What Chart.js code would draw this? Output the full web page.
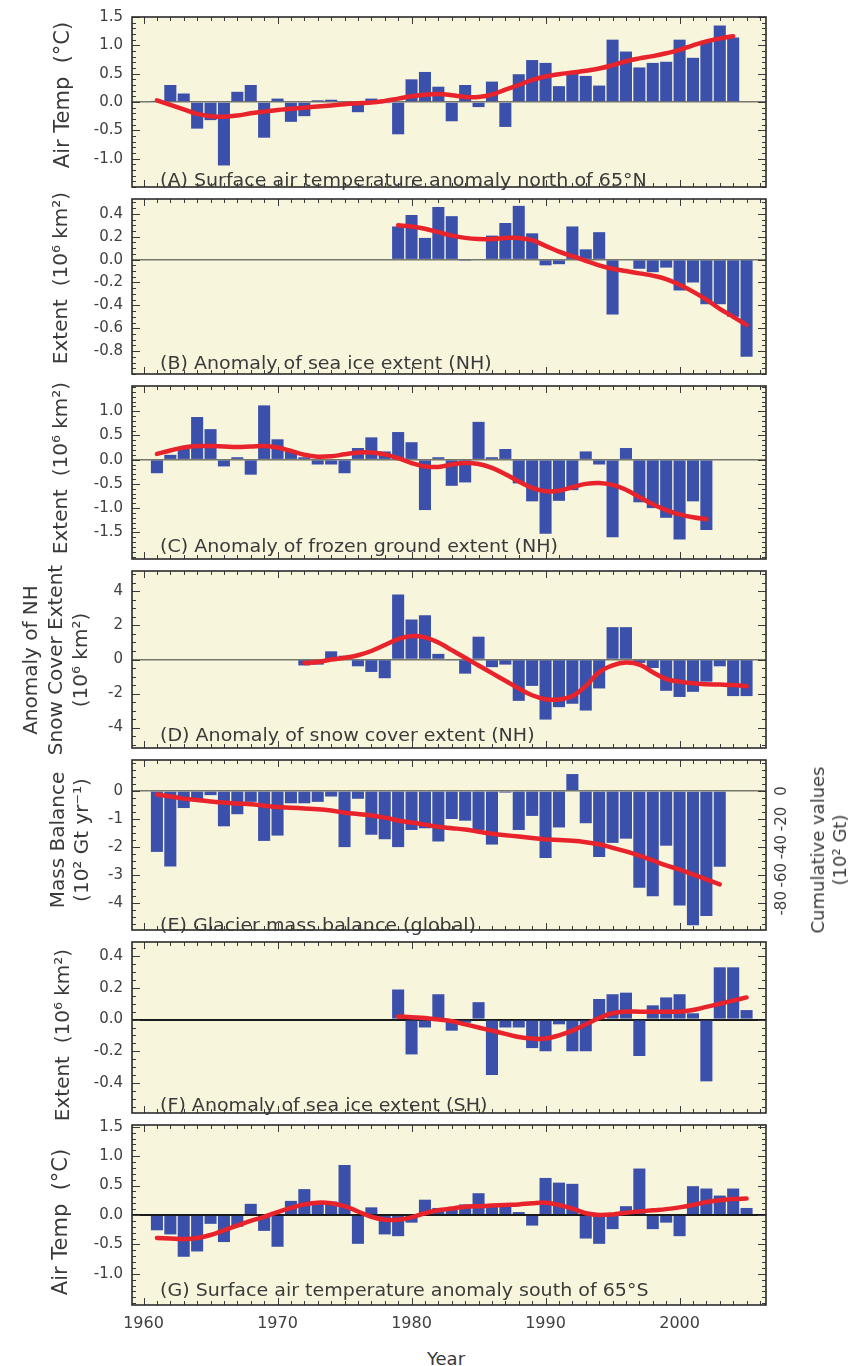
<!DOCTYPE html>
<html>
<head>
<meta charset="utf-8">
<title>Observed changes in the cryosphere and polar temperatures</title>
<script src="https://cdn.jsdelivr.net/npm/chart.js@4.4.1/dist/chart.umd.min.js"></script>
<style>
  body { margin: 0; background: #fff; }
  #wrap { position: relative; width: 853px; height: 1366px; overflow: hidden; font-family: "DejaVu Sans", sans-serif; color: #3a3a3a; }
  #wrap canvas { position: absolute; left: 0; }
  .lbl { position: absolute; left: 160px; font-size: 17px; white-space: nowrap; transform-origin: 0 50%; transform: translateY(-50%) scaleX(1.12); }
  .ttl { position: absolute; white-space: nowrap; text-align: center; font-size: 20px; line-height: 25px; transform: translate(-50%, -50%) rotate(-90deg); }
  .year { position: absolute; left: 446px; top: 1358px; font-size: 18px; transform: translate(-50%, -50%); }
</style>
</head>
<body>
<div id="wrap"></div>
<script>
// ---- Data ----

// x axis
const yearTicks = [1960, 1970, 1980, 1990, 2000];

// (A) Surface air temperature anomaly north of 65N, degC
const startA = 1961;
const barsA = [0.02, 0.30, 0.15, -0.47, -0.32, -1.12, 0.18, 0.30, -0.63, 0.06,
               -0.35, -0.25, 0.03, 0.04, -0.02, -0.18, 0.06, -0.02, -0.57, 0.40,
               0.53, 0.27, -0.34, 0.30, -0.09, 0.36, -0.44, 0.49, 0.74, 0.69,
               0.28, 0.50, 0.46, 0.29, 1.10, 0.89, 0.61, 0.69, 0.71, 1.10,
               0.78, 1.08, 1.35, 1.14];
const lineA = [0.03, -0.05, -0.13, -0.21, -0.25, -0.26, -0.24, -0.20, -0.17, -0.14,
               -0.12, -0.10, -0.08, -0.06, -0.04, -0.02, -0.01, 0.02, 0.06, 0.10,
               0.13, 0.14, 0.12, 0.09, 0.09, 0.13, 0.22, 0.30, 0.39, 0.45,
               0.49, 0.52, 0.55, 0.59, 0.65, 0.72, 0.77, 0.81, 0.86, 0.92,
               1.00, 1.07, 1.12, 1.16];
const ticksA = [1.5, 1.0, 0.5, 0, -0.5, -1.0];

// (B) Anomaly of sea ice extent (NH), 10^6 km2
const startB = 1979;
const barsB = [0.29, 0.39, 0.19, 0.46, 0.38, -0.01, 0.00, 0.21, 0.32, 0.47,
               0.23, -0.05, -0.04, 0.29, 0.09, 0.24, -0.48, 0.00, -0.08, -0.11,
               -0.07, -0.27, -0.20, -0.39, -0.39, -0.50, -0.85];
const lineB = [0.30, 0.29, 0.27, 0.24, 0.21, 0.19, 0.18, 0.18, 0.19, 0.19,
               0.17, 0.12, 0.07, 0.03, -0.01, -0.05, -0.08, -0.10, -0.12, -0.14,
               -0.17, -0.22, -0.28, -0.35, -0.43, -0.50, -0.57];
const ticksB = [0.4, 0.2, 0, -0.2, -0.4, -0.6, -0.8];

// (C) Anomaly of frozen ground extent (NH), 10^6 km2
const startC = 1961;
const barsC = [-0.28, 0.10, 0.22, 0.88, 0.63, -0.14, 0.05, -0.31, 1.12, 0.42,
               0.17, 0.05, -0.10, -0.10, -0.28, 0.24, 0.46, 0.17, 0.57, 0.36,
               -1.04, 0.05, -0.54, -0.47, 0.78, 0.05, 0.22, -0.49, -0.86, -1.53,
               -0.85, -0.63, 0.17, -0.10, -1.60, 0.24, -0.88, -1.00, -1.20, -1.65,
               -0.86, -1.45];
const lineC = [0.12, 0.19, 0.25, 0.28, 0.28, 0.27, 0.26, 0.27, 0.28, 0.25,
               0.18, 0.10, 0.06, 0.07, 0.11, 0.15, 0.15, 0.11, 0.03, -0.07,
               -0.14, -0.15, -0.10, -0.07, -0.09, -0.17, -0.30, -0.45, -0.58, -0.65,
               -0.64, -0.57, -0.50, -0.48, -0.52, -0.62, -0.77, -0.92, -1.04, -1.13,
               -1.19, -1.23];
const ticksC = [1.0, 0.5, 0, -0.5, -1.0, -1.5];

// (D) Anomaly of snow cover extent (NH), 10^6 km2
const startD = 1972;
const barsD = [-0.35, -0.30, 0.48, 0.22, -0.40, -0.73, -1.10, 3.82, 2.35, 2.60,
               0.33, -0.05, -0.83, 1.34, -0.45, -0.30, -2.43, -1.55, -3.53, -2.80,
               -2.60, -3.00, -1.70, 1.90, 1.90, -0.20, -0.50, -1.84, -2.20, -1.90,
               -1.30, -0.40, -2.15, -2.15];
const lineD = [-0.20, -0.15, 0.00, 0.10, 0.25, 0.50, 0.85, 1.20, 1.38, 1.30,
               1.00, 0.55, 0.10, -0.35, -0.80, -1.25, -1.70, -2.10, -2.33, -2.35,
               -2.15, -1.55, -0.75, -0.35, -0.18, -0.30, -0.75, -1.15, -1.30, -1.40,
               -1.45, -1.47, -1.50, -1.57];
const ticksD = [4, 2, 0, -2, -4];

// (E) Glacier mass balance (global), 10^2 Gt/yr; cumulative on right axis, 10^2 Gt
const startE = 1961;
const barsE = [-2.17, -2.69, -0.61, -0.33, -0.15, -1.26, -0.83, -0.39, -1.78, -1.59,
               -0.44, -0.44, -0.39, -0.20, -2.00, -0.28, -1.56, -1.72, -2.00, -1.39,
               -1.33, -1.80, -1.00, -1.06, -1.39, -1.91, -0.06, -1.39, -0.89, -2.39,
               -1.30, 0.60, -1.15, -2.35, -1.85, -1.70, -3.45, -3.75, -1.95, -4.08,
               -4.78, -4.45, -2.70];
const cumulE = [-2.5, -4, -5.5, -6.5, -7.5, -8.3, -9, -9.5, -10.5, -11.5,
                -12, -12.5, -13, -14, -15.5, -16.5, -17.5, -19, -21, -22.5,
                -24, -25.5, -26.5, -27.5, -29, -30.5, -31.5, -32.5, -33.5, -34.5,
                -35, -35.5, -36.5, -38, -40.5, -43, -46, -49.5, -53, -56,
                -59.5, -63, -66.5];
const ticksE = [0, -1, -2, -3, -4];
const ticksERight = [0, -20, -40, -60, -80];

// (F) Anomaly of sea ice extent (SH), 10^6 km2
const startF = 1979;
const barsF = [0.19, -0.22, -0.05, 0.16, -0.07, -0.02, 0.11, -0.35, -0.05, -0.05,
               -0.18, -0.20, -0.03, -0.20, -0.20, 0.13, 0.16, 0.17, -0.23, 0.09,
               0.14, 0.16, 0.04, -0.39, 0.33, 0.33, 0.06];
const lineF = [0.02, 0.015, 0.01, 0.00, -0.01, -0.03, -0.05, -0.07, -0.09, -0.11,
               -0.12, -0.12, -0.10, -0.07, -0.03, 0.01, 0.04, 0.05, 0.05, 0.05,
               0.05, 0.05, 0.06, 0.08, 0.10, 0.12, 0.14];
const ticksF = [0.4, 0.2, 0, -0.2, -0.4];

// (G) Surface air temperature anomaly south of 65S, degC
const startG = 1961;
const barsG = [-0.26, -0.33, -0.71, -0.62, -0.15, -0.46, -0.20, 0.19, -0.27, -0.54,
               0.24, 0.44, 0.22, 0.23, 0.85, -0.49, 0.13, -0.33, -0.36, -0.13,
               0.26, 0.12, 0.09, 0.18, 0.37, 0.18, 0.15, 0.05, -0.18, 0.63,
               0.55, 0.53, -0.40, -0.49, -0.24, 0.15, 0.79, -0.24, -0.13, -0.36,
               0.49, 0.45, 0.33, 0.45, 0.12];
const lineG = [-0.39, -0.40, -0.41, -0.39, -0.34, -0.26, -0.18, -0.10, -0.03, 0.05,
               0.12, 0.18, 0.21, 0.20, 0.15, 0.06, -0.03, -0.08, -0.08, -0.04,
               0.03, 0.08, 0.11, 0.14, 0.15, 0.16, 0.17, 0.18, 0.20, 0.21,
               0.17, 0.11, 0.03, 0.00, 0.01, 0.04, 0.06, 0.08, 0.10, 0.13,
               0.17, 0.22, 0.25, 0.27, 0.28];
const ticksG = [1.5, 1.0, 0.5, 0, -0.5, -1.0];

// ---- Styling ----
const BLUE = '#3b50aa';
const RED = '#e8232b';
const PAPER = '#f7f5dc';
const FRAME = '#2b2b2b';
const TEXT = '#404040';
const FONT = '"DejaVu Sans", sans-serif';

const toPoints = (start, vals) => vals.map((v, i) => ({ x: start + i, y: v }));

// background, frame and inward tick marks on all four sides
const framePlugin = {
    id: 'frame',
    beforeDraw(chart) {
        const a = chart.chartArea, ctx = chart.ctx;
        ctx.save();
        ctx.fillStyle = PAPER;
        ctx.fillRect(a.left, a.top, a.right - a.left, a.bottom - a.top);
        ctx.restore();
    },
    afterDatasetsDraw(chart, args, opts) {
        if (!opts || !opts.minor) return;
        const a = chart.chartArea, ctx = chart.ctx;
        const ys = chart.scales.y, xs = chart.scales.x;
        ctx.save();
        ctx.strokeStyle = '#3a3a3a';
        ctx.lineWidth = 1;
        ctx.beginPath();
        const step = opts.minor;
        for (let k = Math.ceil(ys.min / step - 1e-9); k * step <= ys.max + 1e-9; k++) {
            const v = k * step;
            const py = Math.round(ys.getPixelForValue(v)) + 0.5;
            const major = opts.major.some(m => Math.abs(m - v) < 1e-6);
            const len = major ? 8 : 4;
            ctx.moveTo(a.left, py); ctx.lineTo(a.left + len, py);
            ctx.moveTo(a.right, py); ctx.lineTo(a.right - len, py);
        }
        for (let yr = Math.ceil(xs.min); yr <= xs.max; yr++) {
            const px = Math.round(xs.getPixelForValue(yr)) + 0.5;
            const len = yr % 10 === 0 ? 7 : 4;
            ctx.moveTo(px, a.top); ctx.lineTo(px, a.top + len);
            ctx.moveTo(px, a.bottom); ctx.lineTo(px, a.bottom - len);
        }
        ctx.stroke();
        ctx.lineWidth = 1.6;
        ctx.strokeStyle = FRAME;
        ctx.strokeRect(a.left, a.top, a.right - a.left, a.bottom - a.top);

        // rotated labels for the right-hand (cumulative) axis
        if (opts.rightTicks) {
            const r = chart.scales.y2;
            ctx.fillStyle = TEXT;
            ctx.font = '15px ' + FONT;
            ctx.textAlign = 'center';
            ctx.textBaseline = 'middle';
            opts.rightTicks.forEach(v => {
                ctx.save();
                ctx.translate(a.right + 16, r.getPixelForValue(v));
                ctx.rotate(-Math.PI / 2);
                ctx.fillText(String(v), 0, 0);
                ctx.restore();
            });
        }
        ctx.restore();
    }
};
Chart.register(framePlugin);

const wrap = document.getElementById('wrap');
const X_MIN = 1959.14, X_MAX = 2006.45;

function addPanel(p) {
    const padTop = 12;
    const axisH = p.xLabels ? 30 : 0;
    const padBot = p.xLabels ? 6 : 12;
    const h = (p.bottom - p.top) + padTop + padBot + axisH;
    const c = document.createElement('canvas');
    c.width = 853; c.height = h;
    c.style.top = (p.top - padTop) + 'px';
    c.style.width = '853px'; c.style.height = h + 'px';
    wrap.appendChild(c);

    const datasets = [
        { type: 'bar', data: toPoints(p.start, p.bars), backgroundColor: BLUE, borderWidth: 0,
          barPercentage: 1, categoryPercentage: 0.9, order: 2, yAxisID: 'y' },
        { type: 'line', data: toPoints(p.lineStart || p.start, p.line), borderColor: RED, borderWidth: 4.5,
          tension: 0.4, pointRadius: 0, borderCapStyle: 'round', order: 1, yAxisID: p.lineAxis || 'y' }
    ];

    const scales = {
        x: {
            type: 'linear', min: X_MIN, max: X_MAX, offset: false,
            display: !!p.xLabels,
            grid: { display: false, drawTicks: false },
            border: { display: false },
            afterBuildTicks: s => { s.ticks = yearTicks.map(v => ({ value: v })); },
            afterFit: s => { if (p.xLabels) s.height = axisH; },
            ticks: { color: TEXT, font: { family: FONT, size: 16 }, padding: 9, maxRotation: 0, autoSkip: false,
                     callback: v => String(v) }
        },
        y: {
            type: 'linear', min: p.min, max: p.max, position: 'left',
            afterFit: s => { s.width = 132; },
            afterBuildTicks: s => { s.ticks = p.ticks.map(v => ({ value: v })); },
            grid: {
                drawTicks: false,
                color: ctx => (ctx.tick && ctx.tick.value === 0) ? p.zeroColor : 'rgba(0,0,0,0)',
                lineWidth: ctx => (ctx.tick && ctx.tick.value === 0) ? p.zeroWidth : 1
            },
            border: { display: false },
            ticks: { color: TEXT, font: { family: FONT, size: 15 }, padding: 9, autoSkip: false,
                     callback: v => v.toFixed(p.decimals) }
        }
    };
    if (p.right) {
        scales.y2 = { type: 'linear', position: 'right', display: false, min: p.right.min, max: p.right.max };
    }

    new Chart(c, {
        data: { datasets },
        options: {
            responsive: false,
            animation: false,
            events: [],
            layout: { padding: { top: padTop, bottom: padBot, left: 0, right: 853 - 766 } },
            scales,
            plugins: {
                legend: { display: false },
                tooltip: { enabled: false },
                frame: { minor: p.minor, major: p.ticks, rightTicks: p.right ? p.right.ticks : null }
            }
        }
    });
}

const GREY0 = '#77776a';
addPanel({ top: 11,   bottom: 193,  min: -1.5, max: 1.5,  ticks: ticksA, decimals: 1, minor: 0.1,
           start: startA, bars: barsA, line: lineA, zeroColor: GREY0, zeroWidth: 1.5 });
addPanel({ top: 193,  bottom: 380,  min: -1.0, max: 0.53, ticks: ticksB, decimals: 1, minor: 0.05,
           start: startB, bars: barsB, line: lineB, zeroColor: GREY0, zeroWidth: 1.5 });
addPanel({ top: 380,  bottom: 565,  min: -2.05, max: 1.52, ticks: ticksC, decimals: 1, minor: 0.1,
           start: startC, bars: barsC, line: lineC, zeroColor: GREY0, zeroWidth: 1.5 });
addPanel({ top: 565,  bottom: 754,  min: -5.2, max: 5.2,  ticks: ticksD, decimals: 0, minor: 0.5,
           start: startD, bars: barsD, line: lineD, zeroColor: GREY0, zeroWidth: 1.5 });
addPanel({ top: 754,  bottom: 936,  min: -4.95, max: 1.1, ticks: ticksE, decimals: 0, minor: 0.25,
           start: startE, bars: barsE, line: cumulE, lineAxis: 'y2', zeroColor: GREY0, zeroWidth: 1.5,
           right: { min: -99, max: 22, ticks: ticksERight } });
addPanel({ top: 936,  bottom: 1119, min: -0.59, max: 0.49, ticks: ticksF, decimals: 1, minor: 0.05,
           start: startF, bars: barsF, line: lineF, zeroColor: '#1a1a1a', zeroWidth: 2 });
addPanel({ top: 1119, bottom: 1305, min: -1.53, max: 1.53, ticks: ticksG, decimals: 1, minor: 0.1,
           start: startG, bars: barsG, line: lineG, zeroColor: '#1a1a1a', zeroWidth: 2, xLabels: true });

// ---- Text overlays ----
const panelLabels = [
    ['(A) Surface air temperature anomaly north of 65°N', 180],
    ['(B) Anomaly of sea ice extent (NH)', 363],
    ['(C) Anomaly of frozen ground extent (NH)', 546],
    ['(D) Anomaly of snow cover extent (NH)', 735],
    ['(E) Glacier mass balance (global)', 925],
    ['(F) Anomaly of sea ice extent (SH)', 1105],
    ['(G) Surface air temperature anomaly south of 65°S', 1290]
];
panelLabels.forEach(([txt, y]) => {
    const d = document.createElement('div');
    d.className = 'lbl';
    d.style.top = y + 'px';
    d.textContent = txt;
    wrap.appendChild(d);
});

const axisTitles = [
    { html: 'Air Temp&nbsp;&nbsp;(°C)', x: 62, y: 95, size: 21 },
    { html: 'Extent&nbsp;&nbsp;(10⁶ km²)', x: 60, y: 278 },
    { html: 'Extent&nbsp;&nbsp;(10⁶ km²)', x: 60, y: 468 },
    { html: 'Anomaly of NH<br>Snow Cover Extent<br>(10⁶ km²)', x: 55, y: 660, lh: 25 },
    { html: 'Mass Balance<br>(10² Gt yr⁻¹)', x: 69, y: 840, lh: 24 },
    { html: 'Cumulative values<br>(10² Gt)', x: 829, y: 850, lh: 22, size: 18 },
    { html: 'Extent&nbsp;&nbsp;(10⁶ km²)', x: 62, y: 1035 },
    { html: 'Air Temp&nbsp;&nbsp;(°C)', x: 60, y: 1222, size: 21 }
];
axisTitles.forEach(t => {
    const d = document.createElement('div');
    d.className = 'ttl';
    d.style.left = t.x + 'px';
    d.style.top = t.y + 'px';
    if (t.size) d.style.fontSize = t.size + 'px';
    if (t.lh) d.style.lineHeight = t.lh + 'px';
    d.innerHTML = t.html;
    wrap.appendChild(d);
});

const yearLbl = document.createElement('div');
yearLbl.className = 'year';
yearLbl.textContent = 'Year';
wrap.appendChild(yearLbl);
</script>
</body>
</html>
